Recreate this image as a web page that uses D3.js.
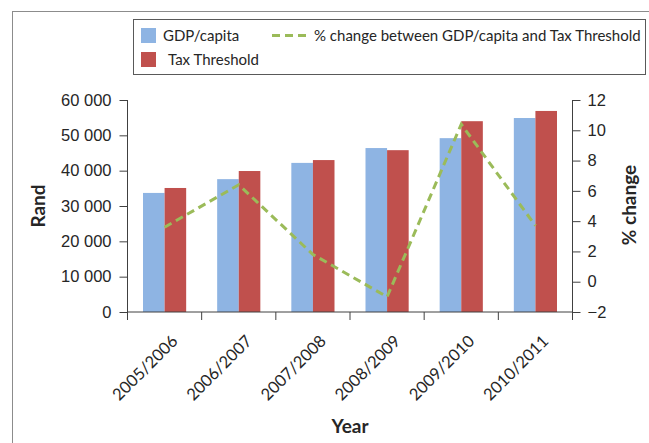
<!DOCTYPE html>
<html>
<head>
<meta charset="utf-8">
<script src="https://cdn.jsdelivr.net/npm/d3@7"></script>
<style>
  body { margin: 0; background: #fff; }
  svg { display: block; font-family: Lato, "Open Sans", sans-serif; }
  .axis path, .axis line { stroke: #404040; }
  .axis text { fill: #262626; font-size: 16.5px; }
</style>
</head>
<body>
<svg width="649" height="443"></svg>
<script>
const years = ["2005/2006", "2006/2007", "2007/2008", "2008/2009", "2009/2010", "2010/2011"];
const gdpPerCapita = [33700, 37600, 42200, 46400, 49200, 54900];
const taxThreshold = [35100, 39900, 43000, 45800, 54000, 56900];
const pctChange = [3.6, 6.4, 1.8, -1.0, 10.4, 3.7];
const randTicks = [0, 10000, 20000, 30000, 40000, 50000, 60000];
const pctTicks = [-2, 0, 2, 4, 6, 8, 10, 12];

const svg = d3.select("svg");

const plotLeft = 127.5, plotRight = 572.5, plotTop = 100, plotBottom = 312;

// outer frame
svg.append("rect")
    .attr("x", 12.5).attr("y", 11.5)
    .attr("width", 700).attr("height", 500)
    .attr("fill", "none")
    .attr("stroke", "#8c8c8c");

const x = d3.scaleBand().domain(years).range([plotLeft, plotRight]);
const gap = 15.5;
const xs = d3.scaleBand()
    .domain(["gdp", "tax"])
    .range([gap, x.bandwidth() - gap]);

const yL = d3.scaleLinear().domain([0, 60000]).range([plotBottom, plotTop]);
const yR = d3.scaleLinear().domain([-2, 12]).range([plotBottom, plotTop]);

const colors = { gdp: "#8eb4e3", tax: "#c0504d" };

const rows = years.map((y, i) => ({ year: y, gdp: gdpPerCapita[i], tax: taxThreshold[i] }));

// bars
const groups = svg.append("g").selectAll("g")
    .data(rows)
    .join("g")
    .attr("transform", d => `translate(${x(d.year)},0)`);

groups.selectAll("rect")
    .data(d => ["gdp", "tax"].map(k => ({ key: k, value: d[k] })))
    .join("rect")
    .attr("x", d => xs(d.key))
    .attr("width", xs.bandwidth())
    .attr("y", d => yL(d.value))
    .attr("height", d => plotBottom - yL(d.value))
    .attr("fill", d => colors[d.key]);

// % change line
const line = d3.line()
    .x((d, i) => x(years[i]) + x.bandwidth() / 2)
    .y(d => yR(d));

svg.append("path")
    .datum(pctChange)
    .attr("d", line)
    .attr("fill", "none")
    .attr("stroke", "#9bbb59")
    .attr("stroke-width", 3)
    .attr("stroke-dasharray", "8,5");

// left axis
svg.append("g")
    .attr("class", "axis")
    .attr("transform", `translate(${plotLeft},0)`)
    .call(d3.axisLeft(yL).tickValues(randTicks).tickSize(8).tickPadding(8)
        .tickFormat(d => d3.format(",")(d).replace(/,/g, " ")))
    .call(g => g.select(".domain").attr("d", `M0,${plotTop}V${plotBottom + 8}`));

// right axis
svg.append("g")
    .attr("class", "axis")
    .attr("transform", `translate(${plotRight},0)`)
    .call(d3.axisRight(yR).tickValues(pctTicks).tickSize(8).tickPadding(7))
    .call(g => g.select(".domain").attr("d", `M0,${plotTop}V${plotBottom + 8}`));

// bottom axis: ticks at category boundaries
const xAxis = svg.append("g")
    .attr("class", "axis")
    .attr("transform", `translate(0,${plotBottom})`);

xAxis.append("path")
    .attr("d", `M${plotLeft},0H${plotRight}`)
    .attr("stroke", "#404040");

xAxis.selectAll("line")
    .data(years)
    .join("line")
    .attr("x1", d => x(d) + x.bandwidth())
    .attr("x2", d => x(d) + x.bandwidth())
    .attr("y1", 0).attr("y2", 8);

xAxis.selectAll("text")
    .data(years)
    .join("text")
    .attr("text-anchor", "end")
    .attr("transform", d => `translate(${x(d) + x.bandwidth() / 2 + 6},22) rotate(-45)`)
    .attr("dy", "0.7em")
    .text(d => d);

// axis titles
svg.append("text")
    .attr("transform", "translate(45,206) rotate(-90)")
    .attr("text-anchor", "middle")
    .attr("font-weight", "bold")
    .attr("font-size", 19)
    .attr("fill", "#262626")
    .text("Rand");

svg.append("text")
    .attr("transform", "translate(636,205) rotate(-90)")
    .attr("text-anchor", "middle")
    .attr("font-weight", "bold")
    .attr("font-size", 19)
    .attr("fill", "#262626")
    .text("% change");

svg.append("text")
    .attr("x", 350).attr("y", 433)
    .attr("text-anchor", "middle")
    .attr("font-weight", "bold")
    .attr("font-size", 19)
    .attr("fill", "#262626")
    .text("Year");

// legend
const legend = svg.append("g");
legend.append("rect")
    .attr("x", 133.5).attr("y", 19.5)
    .attr("width", 512).attr("height", 55)
    .attr("fill", "#fff")
    .attr("stroke", "#595959");

legend.append("rect").attr("x", 141).attr("y", 28).attr("width", 15).attr("height", 15).attr("fill", colors.gdp);
legend.append("rect").attr("x", 141).attr("y", 52).attr("width", 15).attr("height", 15).attr("fill", colors.tax);
legend.append("line")
    .attr("x1", 272).attr("x2", 307).attr("y1", 35.5).attr("y2", 35.5)
    .attr("stroke", "#9bbb59").attr("stroke-width", 3).attr("stroke-dasharray", "8,5");

const legendText = [
    { label: "GDP/capita", x: 163, y: 41 },
    { label: "Tax Threshold", x: 168, y: 65 },
    { label: "% change between GDP/capita and Tax Threshold", x: 314, y: 41 }
];
legend.selectAll("text.lbl")
    .data(legendText)
    .join("text")
    .attr("class", "lbl")
    .attr("x", d => d.x).attr("y", d => d.y)
    .attr("font-size", 15)
    .attr("fill", "#262626")
    .text(d => d.label);
</script>
</body>
</html>
